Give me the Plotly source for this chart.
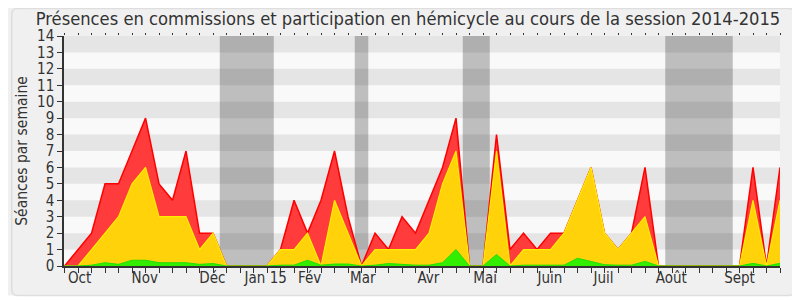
import plotly.graph_objects as go

# ---- data (one value per week, session 2014-2015) ----
weeks = list(range(54))
presences_commission = [0, 1, 2, 5, 5, 7, 9, 5, 4, 7, 2, 2,
                        0, 0, 0, 0,
                        1, 4, 2, 4, 7, 3,
                        0,
                        2, 1, 3, 2, 4, 6, 9,
                        0, 0,
                        8, 1, 2, 1, 2, 2, 4, 6, 2, 1, 2, 6,
                        0, 0, 0, 0, 0, 0, 0,
                        6, 0, 6]
participation_hemicycle = [0, 0, 1, 2, 3, 5, 6, 3, 3, 3, 1, 2,
                           0, 0, 0, 0,
                           1, 1, 2, 0, 4, 2,
                           0,
                           1, 1, 1, 1, 2, 5, 7,
                           0, 0,
                           7, 0, 1, 1, 1, 2, 4, 6, 2, 1, 2, 3,
                           0, 0, 0, 0, 0, 0, 0,
                           4, 0, 4]
interventions = [0, 0, 0.05, 0.2, 0.1, 0.35, 0.35, 0.2, 0.2, 0.2, 0.1, 0.15,
                 0, 0, 0, 0,
                 0.05, 0.05, 0.35, 0.05, 0.12, 0.12,
                 0,
                 0.05, 0.15, 0.1, 0.05, 0.05, 0.2, 1.0,
                 0, 0,
                 0.7, 0, 0.05, 0.05, 0.05, 0.05, 0.47, 0.26, 0.08, 0.05, 0.05, 0.28,
                 0, 0, 0, 0, 0, 0, 0,
                 0.16, 0, 0.16]

month_labels = ["Oct", "Nov", "Déc", "Jan 15", "Fév", "Mar", "Avr", "Mai",
                "Juin", "Juil", "Août", "Sept"]
month_positions = [1.12, 5.94, 10.95, 14.9, 18.16, 22.09, 26.95, 31.16,
                   35.95, 39.93, 44.95, 50.0]
vacances = [(11.5, 15.5), (21.5, 22.5), (29.5, 31.5), (44.5, 49.5)]
y_ticks = list(range(0, 15))

# ---- geometry / style ----
# the page body adds an 8px offset, so the figure is 792x292
W, H = 792, 292
ML, MR, MT, MB = 53, 20, 28, 34
PW, PH = W - ML - MR, H - MT - MB
FONT = "DejaVu Sans Condensed, DejaVu Sans, Verdana, sans-serif"
TXT = "#333333"


def px_to_paper(px, py):
    return (px - ML) / PW, (H - MB - py) / PH


def rounded_outline(x0, y0, x1, y1, r):
    ax0, ay0 = px_to_paper(x0, y0)
    ax1, ay1 = px_to_paper(x1, y1)
    rx, ry = r / PW, r / PH
    return (f"M {ax0 + rx} {ay0} L {ax1 - rx} {ay0} Q {ax1} {ay0} {ax1} {ay0 - ry} "
            f"L {ax1} {ay1 + ry} Q {ax1} {ay1} {ax1 - rx} {ay1} "
            f"L {ax0 + rx} {ay1} Q {ax0} {ay1} {ax0} {ay1 + ry} "
            f"L {ax0} {ay0 - ry} Q {ax0} {ay0} {ax0 + rx} {ay0} Z")


def paper_rect(x0, y0, x1, y1):
    a0, b0 = px_to_paper(x0, y0)
    a1, b1 = px_to_paper(x1, y1)
    return dict(x0=a0, x1=a1, y0=b1, y1=b0)


fig = go.Figure()

fig.add_trace(go.Scatter(x=weeks, y=presences_commission, mode="lines",
                         fill="tozeroy", fillcolor="#ff3b3b",
                         line=dict(color="#ff0000", width=1.5),
                         hoverinfo="skip", showlegend=False))
fig.add_trace(go.Scatter(x=weeks, y=participation_hemicycle, mode="lines",
                         fill="tozeroy", fillcolor="#ffd20a",
                         line=dict(color="#ffee00", width=1.2),
                         hoverinfo="skip", showlegend=False))
fig.add_trace(go.Scatter(x=weeks, y=interventions, mode="lines",
                         fill="tozeroy", fillcolor="#33ee00",
                         line=dict(color="#22dd00", width=1),
                         hoverinfo="skip", showlegend=False))
# invisible traces to carry the extra x axes
fig.add_trace(go.Scatter(x=[0], y=[0], xaxis="x2", mode="markers",
                         marker=dict(opacity=0), hoverinfo="skip", showlegend=False))
fig.add_trace(go.Scatter(x=[0], y=[0], xaxis="x3", mode="markers",
                         marker=dict(opacity=0), hoverinfo="skip", showlegend=False))

shapes = []
# white margins outside the panel (right and bottom)
shapes.append(dict(type="rect", xref="paper", yref="paper", layer="below",
                   fillcolor="white", line=dict(width=0),
                   **paper_rect(786.5, -5, W + 5, H + 5)))
shapes.append(dict(type="rect", xref="paper", yref="paper", layer="below",
                   fillcolor="white", line=dict(width=0),
                   **paper_rect(-5, 287.5, W + 5, H + 5)))
# panel outline
shapes.append(dict(type="path", xref="paper", yref="paper", layer="below",
                   path=rounded_outline(0.5, 0.5, 786.5, 287.5, 6),
                   fillcolor="rgba(0,0,0,0)", line=dict(color="#dedede", width=1.5)))
# vacation bands
for a, b in vacances:
    shapes.append(dict(type="rect", xref="x", yref="y", layer="below",
                       x0=a, x1=b, y0=0, y1=14, fillcolor="#bebebe",
                       line=dict(width=0)))
# horizontal stripes
for k in range(1, 14, 2):
    shapes.append(dict(type="rect", xref="x", yref="y", layer="below",
                       x0=-2, x1=56, y0=k, y1=k + 1,
                       fillcolor="rgba(0,0,0,0.08)", line=dict(width=0)))

xr = [-0.04, 53]
fig.update_layout(
    width=W, height=H,
    margin=dict(l=ML, r=MR, t=MT, b=MB),
    paper_bgcolor="#f0f0f0", plot_bgcolor="#f9f9f9",
    font=dict(family=FONT, color=TXT, size=14),
    title=dict(text="Présences en commissions et participation en hémicycle au cours de la session 2014-2015",
               x=400 / W, xanchor="center", y=1 - 11 / H, yanchor="middle",
               font=dict(size=18.2, family=FONT, color=TXT)),
    shapes=shapes,
    hovermode=False,
    xaxis=dict(range=xr, tickmode="array", tickvals=weeks, ticktext=[""] * len(weeks),
               ticks="outside", ticklen=5, tickcolor=TXT, tickwidth=1,
               showgrid=False, zeroline=False, showline=True, linecolor=TXT,
               linewidth=1.5, fixedrange=True),
    xaxis2=dict(range=xr, overlaying="x", side="bottom", anchor="y",
                tickmode="array", tickvals=month_positions, ticktext=month_labels,
                ticks="", showgrid=False, zeroline=False, showline=False,
                tickfont=dict(size=15, family=FONT, color=TXT), ticklabelstandoff=1),
    xaxis3=dict(range=xr, overlaying="x", side="top", anchor="y",
                tickmode="array", tickvals=weeks, ticktext=[""] * len(weeks),
                ticks="outside", ticklen=2, tickcolor=TXT, tickwidth=1,
                showgrid=False, zeroline=False, showline=False),
    yaxis=dict(range=[0, 14], tickmode="array", tickvals=y_ticks,
               ticks="outside", ticklen=5, tickcolor=TXT, tickwidth=1,
               showgrid=False, zeroline=False, showline=True, linecolor=TXT,
               linewidth=1.5, tickfont=dict(size=15, family=FONT, color=TXT),
               title=dict(text="Séances par semaine", standoff=6,
                          font=dict(size=15.5, family=FONT, color=TXT))),
)

fig.write_html("out.html")
